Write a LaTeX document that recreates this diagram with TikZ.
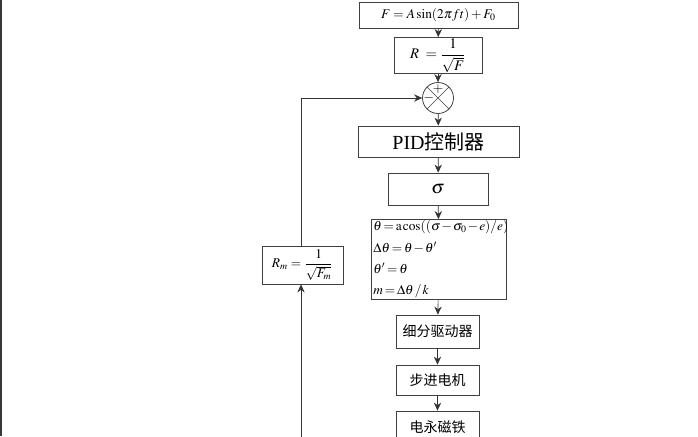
\documentclass[tikz,border=0pt]{standalone}
\usepackage{amsmath}
\usepackage{mathptmx}
\usepackage{fontspec}
\setmainfont{Liberation Serif}
\newfontfamily\cjk{Noto Sans CJK SC}
\usetikzlibrary{positioning,arrows.meta}
\tikzset{>={Stealth[length=6pt,width=5.5pt]}}
\tikzset{blk/.style={draw=black!75,line width=0.6pt,fill=white,inner sep=1pt,font=\fontsize{10}{12}\selectfont},
  lnk/.style={->,draw=black!80,line width=0.5pt}}

\begin{document}
\begin{tikzpicture}[x=0.75pt,y=-0.75pt]
\useasboundingbox (0,0) rectangle (698,436);
\clip (0,0) rectangle (698,436);
\fill[fill=black!78] (0,0) rectangle (2,436);
\node[blk,minimum width=119.25pt,minimum height=19.5pt] (F) at (438.5,15) {$F=A\sin(2\pi ft)+F_0$};
\node[blk,minimum width=66pt,minimum height=22.5pt,font=\fontsize{11}{12}\selectfont] (R) at (438,55.5) {$R\;=\dfrac{1}{\sqrt{F}}$};
\node[draw=black!75,line width=0.6pt,circle,minimum size=23.25pt,inner sep=0pt] (sum) at (438,98) {};
\draw[black!75,line width=0.5pt] (sum.45)--(sum.225) (sum.135)--(sum.315);
\node[font=\fontsize{10}{10}\selectfont,inner sep=0pt] (plus) at ([yshift=-5pt]sum.north) {$+$};
\node[font=\fontsize{10}{10}\selectfont,inner sep=0pt] (minus) at ([xshift=5pt]sum.west) {$-$};
\node[blk,minimum width=120.75pt,minimum height=23.25pt,font=\fontsize{15}{16}\selectfont] (pid) at (438.5,141.5) {PID{\cjk 控制器}};
\node[blk,minimum width=75pt,minimum height=24pt,font=\fontsize{14}{14}\selectfont] (sig) at (438,189) {$\sigma$};
\node[blk,minimum width=100.5pt,minimum height=59.25pt,text width=98.5pt,align=left,inner xsep=1.5pt] (calc) at (439,259.5)
  {\medmuskip=1.5mu\thickmuskip=2.5mu\thinmuskip=1.5mu
   \mbox{$\theta=\mathrm{a}\cos((\sigma-\sigma_0-e)/e)$}\\[4pt]
   \mbox{$\Delta\theta=\theta-\theta'$}\\[4pt]
   \mbox{$\theta'=\theta$}\\[4pt]
   \mbox{$m=\Delta\theta\,/\,k$}};
\node[blk,minimum width=62.25pt,minimum height=24.75pt,font=\cjk\fontsize{10.5}{12}\selectfont] (drv) at (437.5,331.5) {细分驱动器};
\node[blk,minimum width=62.25pt,minimum height=22.5pt,font=\cjk\fontsize{10.5}{12}\selectfont] (motor) at (437.5,380) {步进电机};
\node[blk,minimum width=62.25pt,minimum height=24pt,font=\cjk\fontsize{10.5}{12}\selectfont] (mag) at (437.5,427) {电永磁铁};
\node[blk,minimum width=60.75pt,minimum height=28.5pt] (Rm) at (302.5,265) {$R_m=\dfrac{1}{\sqrt{F_m}}$};
\coordinate (fb) at (301,440);
\draw[lnk] (F) -- (R);
\draw[lnk] (R) -- (sum);
\draw[lnk] (sum) -- (pid);
\draw[lnk] (pid) -- (sig);
\draw[lnk] (sig) -- (calc);
\draw[lnk] (calc) -- (drv);
\draw[lnk] (drv) -- (motor);
\draw[lnk] (motor) -- (mag);
\draw[lnk] (fb) -- (fb |- Rm.south);
\draw[lnk] (fb |- Rm.north) |- (sum.west);
\end{tikzpicture}
\end{document}
